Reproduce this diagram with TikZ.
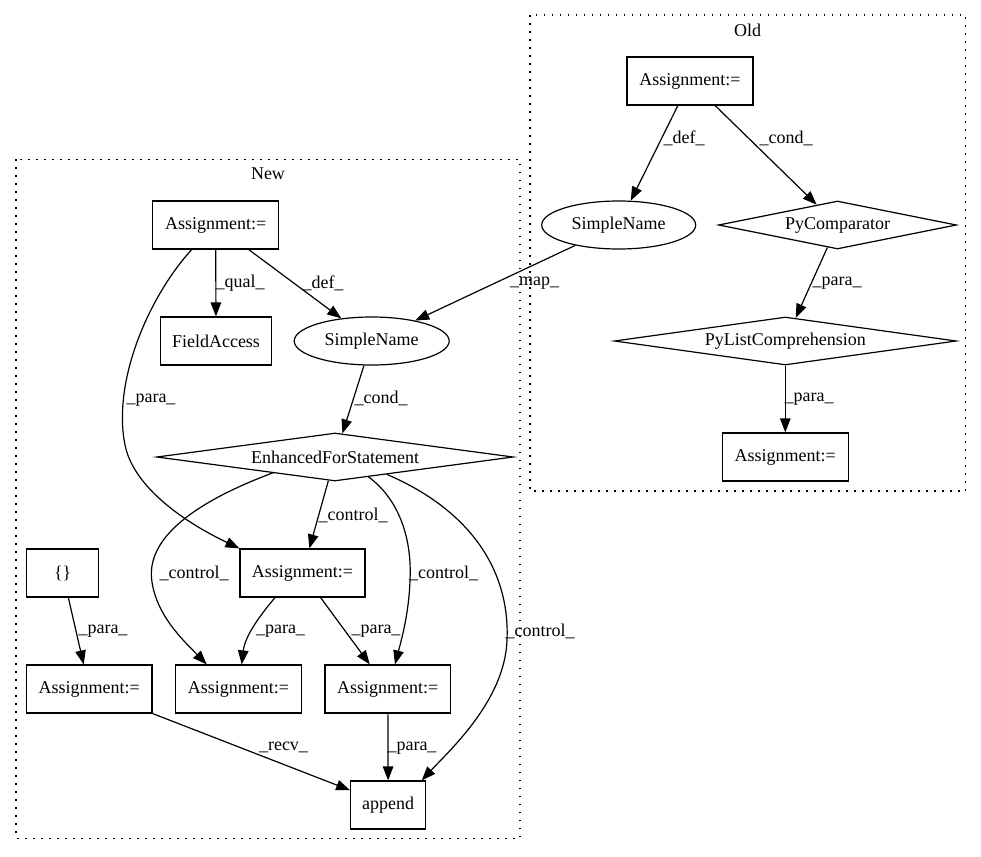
\documentclass[tikz,border=0pt]{standalone}
\usepackage{fontspec}
\setmainfont{Liberation Serif}
\usetikzlibrary{shapes.geometric,arrows.meta,calc}
\begin{document}
\begin{tikzpicture}[x=1pt,y=-1pt,
  every node/.style={font=\fontsize{18}{20}\selectfont},
  box/.style={draw,rectangle,line width=1.2pt,minimum height=48pt,inner sep=0pt},
  ell/.style={draw,ellipse,line width=1.2pt,minimum width=155pt,minimum height=48pt,inner sep=0pt},
  dia/.style={draw,diamond,aspect=7,line width=1.2pt,minimum height=48pt,inner sep=0pt},
  edge/.style={line width=1.2pt,-{Triangle[length=14pt,width=10.5pt]}},
  lbl/.style={inner sep=0pt},
  cluster/.style={line width=1.4pt,dash pattern=on 1.6pt off 6.4pt}]
\useasboundingbox (0,0) rectangle (981,856);
% clusters
\draw[cluster] (530,15) rectangle (965.7,491);
\node[lbl] (oldt) at (747.7,30) {Old};
\draw[cluster] (16,159.3) rectangle (520,838.3);
\node[lbl] (newt) at (268,174) {New};
% Old nodes
\node[box,minimum width=126pt] (oA) at (690,81) {Assignment:=};
\node[ell,minimum width=154pt] (oS) at (618.7,225) {SimpleName};
\node[dia,minimum width=238pt] (oP) at (837.5,225) {PyComparator};
\node[dia,minimum width=342pt] (oL) at (785.3,341) {PyListComprehension};
\node[box,minimum width=126pt] (oB) at (785.3,457) {Assignment:=};
% New nodes
\node[box,minimum width=126pt] (nA) at (215.7,225) {Assignment:=};
\node[box,minimum width=110.6pt] (nF) at (216,341) {FieldAccess};
\node[ell] (nS) at (371.7,341) {SimpleName};
\node[dia,minimum width=356.6pt] (nE) at (335,457) {EnhancedForStatement};
\node[box,minimum width=72pt] (nC) at (62.7,573) {\{\}};
\node[box,minimum width=125pt] (nM) at (302.5,573) {Assignment:=};
\node[box,minimum width=125.3pt] (nL) at (89.3,689) {Assignment:=};
\node[box,minimum width=125.6pt] (nB) at (238.5,689) {Assignment:=};
\node[box,minimum width=125.7pt] (nR) at (387.8,689) {Assignment:=};
\node[box,minimum width=75pt] (nP) at (388.2,805) {append};
% Old edges
\draw[edge] (oA) -- (oS);
\node[lbl] at (684,138) {\_def\_};
\draw[edge] (oA) -- (oP);
\node[lbl] at (786,138) {\_cond\_};
\draw[edge] (oP) -- (oL);
\node[lbl] at (837,283) {\_para\_};
\draw[edge] (oL) -- (oB);
\node[lbl] at (809,399) {\_para\_};
\draw[edge] (oS) -- (nS);
\node[lbl] at (534.5,283) {\_map\_};
% New edges
\draw[edge] (nA) -- (nF);
\node[lbl] at (240,283) {\_qual\_};
\draw[edge] (nA) -- (nS);
\node[lbl] at (323,283) {\_def\_};
\draw[edge] ($(nA.south)+(-24,0)$) .. controls (150,295) and (112,380) .. (125,445)
  .. controls (133,485) and (180,520) .. (nM.north west);
\node[lbl] at (151,400) {\_para\_};
\draw[edge] (nS) -- (nE);
\node[lbl] at (381,398) {\_cond\_};
\draw[edge] (nE) -- (nM);
\node[lbl] at (353,515) {\_control\_};
\draw[edge] (273.3,472.7) .. controls (200,500) and (148,535) .. (151.5,578)
  .. controls (155,615) and (185,642) .. ($(nB.north)+(-31.8,0)$);
\node[lbl] at (194,573) {\_control\_};
\draw[edge] (368.3,476.7) .. controls (400,500) and (412,540) .. (410,580)
  .. controls (409,615) and (400,645) .. ($(nR.north)+(7.2,0)$);
\node[lbl] at (443.5,573) {\_control\_};
\draw[edge] (386.7,474.3) .. controls (470,510) and (510,570) .. (507,640)
  .. controls (505,700) and (450,750) .. ($(nP.north)+(33.5,0)$);
\node[lbl] at (540,631) {\_control\_};
\draw[edge] (nC) -- (nL);
\node[lbl] at (103,631) {\_para\_};
\draw[edge] ($(nM.south)+(-27.5,0)$) .. controls (262,613) and (245,635) .. ($(nB.north)+(3.2,0)$);
\node[lbl] at (280.5,631) {\_para\_};
\draw[edge] (nM) -- (nR);
\node[lbl] at (376,631) {\_para\_};
\draw[edge] (nL) -- (nP);
\node[lbl] at (283.5,747) {\_recv\_};
\draw[edge] (nR) -- (nP);
\node[lbl] at (412,748) {\_para\_};
\end{tikzpicture}
\end{document}
